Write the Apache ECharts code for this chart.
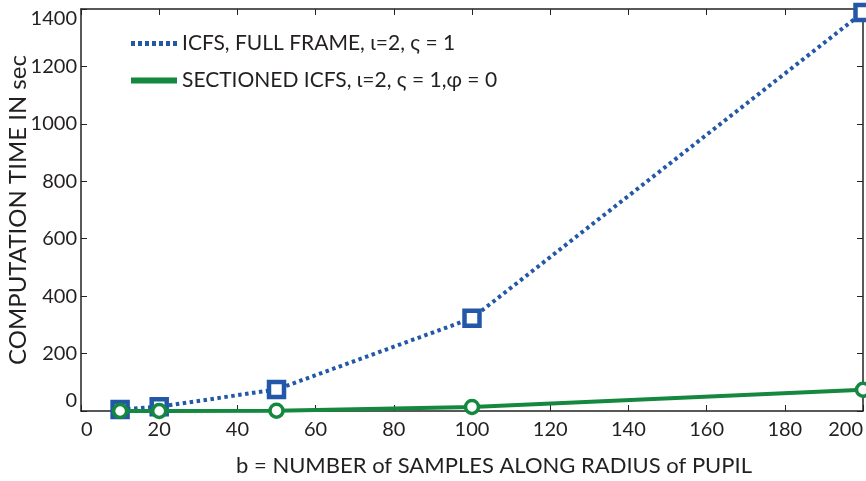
<!DOCTYPE html>
<html>
<head>
<meta charset="utf-8">
<script src="https://cdn.jsdelivr.net/npm/echarts@6/dist/echarts.min.js"></script>
<style>
html,body{margin:0;padding:0;background:#fff;}
#chart{width:866px;height:481px;}
</style>
</head>
<body>
<div id="chart"></div>
<script>
var xValues = [10, 20, 50, 100, 200];
var fullFrame = [5, 15, 75, 323, 1388];
var sectioned = [0, 0, 1, 14, 74];
var seriesNames = ['ICFS, FULL FRAME, ι=2, ς = 1', 'SECTIONED ICFS, ι=2, ς = 1,φ = 0'];
var xTitle = 'b = NUMBER of SAMPLES ALONG RADIUS of PUPIL';
var yTitle = 'COMPUTATION TIME IN sec';

var FONT = 'Lato';
var TXT = '#231f20';
var BLUE = '#2358a8';
var GREEN = '#14883e';

function pairs(xs, ys) { return xs.map(function (x, i) { return [x, ys[i]]; }); }
function plain(v) { return String(v); }

var chart = echarts.init(document.getElementById('chart'));
var axisLine = { show: true, onZero: false, lineStyle: { color: '#222', width: 1.5 } };
var tick = { show: true, inside: true, length: 6, lineStyle: { color: '#222', width: 1 } };
chart.setOption({
  animation: false,
  backgroundColor: '#fff',
  grid: { left: 81, right: 3, top: 9, bottom: 70, containLabel: false, outerBoundsMode: 'none' },
  legend: {
    left: 128, top: 33, orient: 'vertical', padding: 0,
    itemWidth: 46, itemHeight: 20, itemGap: 16,
    itemStyle: { opacity: 0 },
    textStyle: { fontFamily: FONT, fontSize: 21, color: TXT },
    data: [
      { name: seriesNames[0], lineStyle: { width: 5, type: [4, 3] } },
      { name: seriesNames[1], lineStyle: { width: 6 } }
    ]
  },
  xAxis: [{
    type: 'value', min: 0, max: 200, interval: 20,
    name: xTitle, nameLocation: 'middle', nameGap: 44, nameMoveOverlap: false,
    nameTextStyle: { fontFamily: FONT, fontSize: 22, color: TXT, padding: [0, 0, 0, 44] },
    axisLine: axisLine, axisTick: tick,
    axisLabel: { fontFamily: FONT, fontSize: 20, color: TXT, margin: 9, alignMinLabel: 'left', alignMaxLabel: 'right', formatter: plain },
    splitLine: { show: false }
  }, {
    type: 'value', min: 0, max: 200, interval: 20, position: 'top',
    axisLine: axisLine, axisTick: tick,
    axisLabel: { show: false }, splitLine: { show: false }
  }],
  yAxis: [{
    type: 'value', min: 0, max: 1400, interval: 200,
    name: yTitle, nameLocation: 'middle', nameGap: 51, nameRotate: 90, nameMoveOverlap: false,
    nameTextStyle: { fontFamily: FONT, fontSize: 24, color: TXT },
    axisLine: axisLine, axisTick: tick,
    axisLabel: { fontFamily: FONT, fontSize: 20, color: TXT, margin: 4, verticalAlignMinLabel: 'bottom', verticalAlignMaxLabel: 'top', formatter: plain },
    splitLine: { show: false }
  }, {
    type: 'value', min: 0, max: 1400, interval: 200, position: 'right',
    axisLine: axisLine, axisTick: tick,
    axisLabel: { show: false }, splitLine: { show: false }
  }],
  series: [{
    name: seriesNames[0], type: 'line', xAxisIndex: 0, yAxisIndex: 0,
    data: pairs(xValues, fullFrame),
    symbol: 'rect', symbolSize: 15, showAllSymbol: true,
    lineStyle: { color: BLUE, width: 4, type: [3.5, 3.5] },
    itemStyle: { color: '#fff', borderColor: BLUE, borderWidth: 4.5 },
    color: BLUE, z: 3
  }, {
    name: seriesNames[1], type: 'line', xAxisIndex: 0, yAxisIndex: 0,
    data: pairs(xValues, sectioned),
    symbol: 'circle', symbolSize: 13, showAllSymbol: true,
    lineStyle: { color: GREEN, width: 4 },
    itemStyle: { color: '#fff', borderColor: GREEN, borderWidth: 3.5 },
    color: GREEN, z: 4
  }]
});
</script>
</body>
</html>
